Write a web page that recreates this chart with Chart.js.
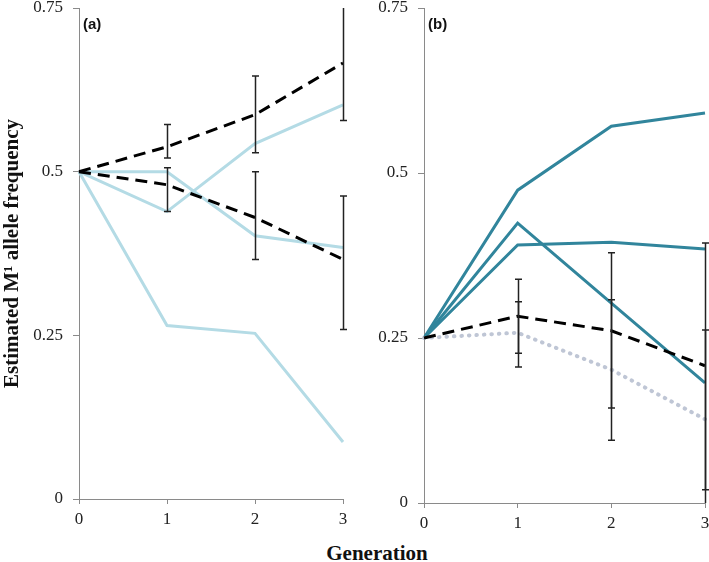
<!DOCTYPE html>
<html>
<head>
<meta charset="utf-8">
<script src="https://cdn.jsdelivr.net/npm/chart.js@4.4.1/dist/chart.umd.min.js"></script>
<style>
  body { margin: 0; background: #fff; }
  .panel { position: absolute; top: 0; }
  #xTitle {
    position: absolute; left: 277px; width: 200px; top: 541px;
    text-align: center; font: bold 21px "Liberation Serif", serif; color: #111;
  }
</style>
</head>
<body>
<div class="panel" style="left:0"><canvas id="chartA" width="350" height="532"></canvas></div>
<div class="panel" style="left:350px"><canvas id="chartB" width="359" height="532"></canvas></div>
<div id="xTitle">Generation</div>
<script>
// generations on the x axis
const generations = ['0', '1', '2', '3'];

// panel (a)
const aDashUp = [0.5, 0.538, 0.587, 0.666];
const aDashUpLow = [null, 0.521, 0.529, 0.578];
const aDashUpHigh = [null, 0.572, 0.646, 0.754];
const aDashDown = [0.5, 0.480, 0.430, 0.366];
const aDashDownLow = [null, 0.439, 0.366, 0.259];
const aDashDownHigh = [null, 0.506, 0.500, 0.463];
const aLine1 = [0.5, 0.5, 0.402, 0.384];
const aLine2 = [0.5, 0.439, 0.543, 0.602];
const aLine3 = [0.5, 0.265, 0.253, 0.087];

// panel (b)
const bLine1 = [0.25, 0.474, 0.571, 0.591];
const bLine2 = [0.25, 0.391, 0.395, 0.385];
const bLine3 = [0.25, 0.424, 0.303, 0.182];
const bDash = [0.25, 0.283, 0.261, 0.208];
const bDashLow = [null, 0.227, 0.144, 0.020];
const bDashHigh = [null, 0.339, 0.379, 0.394];
const bDot = [0.25, 0.258, 0.202, 0.127];
const bDotLow = [null, 0.206, 0.095, -0.01];
const bDotHigh = [null, 0.305, 0.308, 0.262];

const lightBlue = '#b4dbe5';
const teal = '#31859c';
const dotGrey = '#bfc6d5';
const axisGrey = '#8a8a8a';

// draws vertical error bars with caps from errLow / errHigh on each dataset
const errorBars = {
  id: 'errorBars',
  afterDatasetsDraw(chart) {
    const ctx = chart.ctx;
    const xs = chart.scales.x, ys = chart.scales.y;
    ctx.save();
    ctx.strokeStyle = '#222';
    ctx.lineWidth = 1.5;
    chart.data.datasets.forEach(ds => {
      if (!ds.errLow) return;
      ds.errLow.forEach((lo, i) => {
        const hi = ds.errHigh[i];
        if (lo == null || hi == null) return;
        const x = Math.round(xs.getPixelForValue(i)) + 0.5;
        const loC = Math.max(lo, ys.min), hiC = Math.min(hi, ys.max);
        const y1 = ys.getPixelForValue(loC), y2 = ys.getPixelForValue(hiC);
        ctx.beginPath();
        ctx.moveTo(x, y1); ctx.lineTo(x, y2);
        if (lo >= ys.min) { ctx.moveTo(x - 3.5, y1); ctx.lineTo(x + 3.5, y1); }
        if (hi <= ys.max) { ctx.moveTo(x - 3.5, y2); ctx.lineTo(x + 3.5, y2); }
        ctx.stroke();
      });
    });
    ctx.restore();
  }
};

// panel letter in the top-left corner of the plot
const panelLabel = {
  id: 'panelLabel',
  afterDraw(chart, args, opts) {
    const ctx = chart.ctx;
    ctx.save();
    ctx.font = 'bold 15px "Liberation Sans", Arial, sans-serif';
    ctx.fillStyle = '#111';
    ctx.textBaseline = 'middle';
    ctx.fillText(opts.text, chart.chartArea.left + 4, chart.chartArea.top + 17);
    ctx.restore();
  }
};

function line(data, color, extra) {
  return Object.assign({
    data: data, borderColor: color, borderWidth: 3,
    pointRadius: 0, tension: 0, fill: false
  }, extra || {});
}

function makeOptions(label, yWidth, xHeight, padRight, showYTitle) {
  return {
    responsive: false,
    animation: false,
    layout: { padding: { top: 8, right: padRight, left: 0, bottom: 0 } },
    plugins: {
      legend: { display: false },
      tooltip: { enabled: false },
      panelLabel: { text: label }
    },
    scales: {
      x: {
        grid: { drawOnChartArea: false, color: axisGrey, tickLength: 5 },
        border: { color: axisGrey, width: 1 },
        ticks: { color: '#222', padding: 5, font: { family: '"Liberation Serif", serif', size: 17 } },
        afterFit(s) { s.height = xHeight; s.paddingLeft = 0; s.paddingRight = 0; }
      },
      y: {
        min: 0, max: 0.75,
        grid: { drawOnChartArea: false, color: axisGrey, tickLength: 6 },
        border: { color: axisGrey, width: 1 },
        ticks: {
          stepSize: 0.25,
          color: '#222', padding: 10,
          font: { family: '"Liberation Serif", serif', size: 17 },
          callback: v => String(v)
        },
        title: {
          display: showYTitle,
          text: 'Estimated M¹ allele frequency',
          color: '#111',
          padding: 0,
          font: { family: '"Liberation Serif", serif', size: 21, weight: 'bold' }
        },
        afterFit(s) { s.width = yWidth; s.paddingTop = 0; s.paddingBottom = 0; }
      }
    }
  };
}

const dash = [12, 7];

new Chart(document.getElementById('chartA'), {
  type: 'line',
  data: {
    labels: generations,
    datasets: [
      line(aDashUp, '#000', { borderDash: dash, errLow: aDashUpLow, errHigh: aDashUpHigh }),
      line(aDashDown, '#000', { borderDash: dash, errLow: aDashDownLow, errHigh: aDashDownHigh }),
      line(aLine1, lightBlue),
      line(aLine2, lightBlue),
      line(aLine3, lightBlue)
    ]
  },
  options: makeOptions('(a)', 79, 33, 7, true),
  plugins: [errorBars, panelLabel]
});

new Chart(document.getElementById('chartB'), {
  type: 'line',
  data: {
    labels: generations,
    datasets: [
      line(bDash, '#000', { borderDash: dash, errLow: bDashLow, errHigh: bDashHigh }),
      line(bDot, dotGrey, { borderDash: [0.5, 7], borderCapStyle: 'round', borderWidth: 4, errLow: bDotLow, errHigh: bDotHigh }),
      line(bLine1, teal),
      line(bLine2, teal),
      line(bLine3, teal)
    ]
  },
  options: makeOptions('(b)', 74, 29, 4, false),
  plugins: [errorBars, panelLabel]
});
</script>
</body>
</html>
